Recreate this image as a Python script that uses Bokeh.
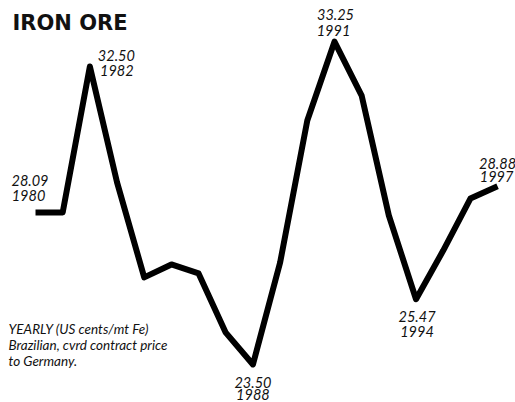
from bokeh.plotting import figure
from bokeh.models import ColumnDataSource, Label, Range1d
from bokeh.core.properties import value
from bokeh.embed import file_html
from bokeh.resources import INLINE

# ---- data ----
years = list(range(1980, 1998))
prices = [28.09, 28.09, 32.50, 29.00, 26.13, 26.52, 26.25, 24.46, 23.50,
          26.58, 30.87, 33.25, 31.62, 28.00, 25.47, 26.94, 28.51, 28.88]
label_years = [1980, 1982, 1988, 1991, 1994, 1997]
title_text = "IRON ORE"
note_lines = ["YEARLY (US cents/mt Fe)", "Brazilian, cvrd contract price", "to Germany."]

W, H = 515, 402

p = figure(width=W, height=H, output_backend="svg", toolbar_location=None,
           x_range=Range1d(1978.712, 1997.660), y_range=Range1d(22.350, 34.495),
           x_axis_location=None, y_axis_location=None, min_border=0)
p.grid.visible = False
p.outline_line_color = None
p.background_fill_color = "white"
p.border_fill_color = "white"

p.line(years, prices, line_width=6, line_color="black",
       line_join="round", line_cap="butt")

# labels at marked points
lx = label_years
ly = [prices[years.index(yr)] for yr in lx]
src = ColumnDataSource(dict(
    x=lx, y=ly,
    val=["%.2f" % v for v in ly],
    yr=[str(yr) for yr in lx],
    vdx=[-5.5, 26.5, 0, 1, 1, 0],
    vdy=[-32, -11, 18, -27, 17, -23],
    ydx=[-7, 27, 0, -1, 1, -1],
    ydy=[-17, 4, 30, -11, 32, -10],
))
common = dict(text_font=value("Lato"), text_font_style="italic",
              text_font_size="14.5px", text_color="#111111",
              text_align="center", text_baseline="alphabetic")
p.text(x="x", y="y", text="val", x_offset="vdx", y_offset="vdy", source=src, **common)
p.text(x="x", y="y", text="yr", x_offset="ydx", y_offset="ydy", source=src, **common)

# title
p.add_layout(Label(x=12, y=H - 22, x_units="screen", y_units="screen",
                   text=title_text, text_font="DejaVu Sans", text_font_style="bold",
                   text_font_size="21px", text_color="#111111",
                   text_baseline="alphabetic", text_align="left"))

# footnote
for i, line in enumerate(note_lines):
    p.add_layout(Label(x=8, y=H - 328 - 16 * i, x_units="screen", y_units="screen",
                       text=line, text_font="Lato", text_font_style="italic",
                       text_font_size="13.5px", text_color="#111111",
                       text_baseline="alphabetic", text_align="left"))

open("out.html", "w").write(file_html(p, INLINE))
